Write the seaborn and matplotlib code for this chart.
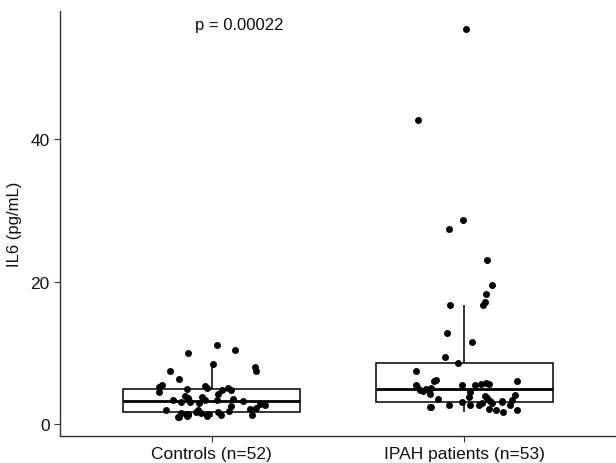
import numpy as np
import pandas as pd
import matplotlib
matplotlib.use("Agg")
import matplotlib.pyplot as plt
import seaborn as sns

# IL6 values
groups = ["Controls (n=52)", "IPAH patients (n=53)"]

controls = [11.15, 10.4, 9.9, 8.4, 7.97, 7.37, 7.37, 6.3, 5.4, 5.35, 5.25, 5.1, 5.0, 4.88,
            4.78, 4.7, 4.5, 4.2, 3.9, 3.78, 3.6, 3.5, 3.4, 3.4, 3.3, 3.25,
            3.1, 3.05, 2.95, 2.8, 2.66, 2.5, 2.3, 2.15, 2.0, 1.9, 1.8, 1.65, 1.62,
            1.6, 1.5, 1.45, 1.45, 1.35, 1.3, 1.25, 1.2, 1.2, 1.13, 1.05, 0.99, 1.0]

ipah = [55.5, 42.7, 28.7, 27.4, 22.98, 19.5, 18.3, 17.06, 16.7, 16.7, 12.7, 11.5, 9.37, 8.58,
        7.46, 6.1, 6.0, 6.0, 5.8, 5.6, 5.6, 5.5, 5.5, 5.4, 5.2, 5.1, 4.94,
        4.8, 4.6, 4.5, 4.25, 4.1, 3.87, 3.8, 3.7, 3.5, 3.4, 3.2, 3.2, 3.12, 3.1,
        3.0, 2.9, 2.7, 2.6, 2.6, 2.6, 2.4, 2.35, 2.15, 2.0, 1.9, 1.68]

p_label = "p = 0.00022"

df = pd.DataFrame({
    "group": [groups[0]] * len(controls) + [groups[1]] * len(ipah),
    "IL6": controls + ipah,
})

sns.set_style("ticks")
plt.rcParams["font.family"] = ["Liberation Sans", "DejaVu Sans"]

fig = plt.figure(figsize=(6.16, 4.64), dpi=100)
ax = fig.add_axes([60 / 616, 1 - 437 / 464, 1 - 60 / 616, (437 - 12) / 464])

# boxes without outliers, points drawn on top with jitter
sns.boxplot(data=df, x="group", y="IL6", order=groups, width=0.7,
            color="white", linecolor="black", linewidth=1.1,
            showfliers=False, showcaps=False,
            medianprops={"linewidth": 2.0}, ax=ax)

np.random.seed(3)
sns.stripplot(data=df, x="group", y="IL6", order=groups, jitter=0.22,
              color="black", size=5, linewidth=0, ax=ax)

ax.text(-0.066, 56.1, p_label, ha="left", va="center", fontsize=12, color="#111")

ax.set_xlim(-0.6, 1.6)
ax.set_ylim(-1.7, 58)
ax.set_yticks([0, 20, 40])
ax.set_xlabel("")
ax.set_ylabel("IL6 (pg/mL)", fontsize=12, color="#111", labelpad=6)
ax.tick_params(axis="both", labelsize=12.5, colors="#333", labelcolor="#111",
               length=4, width=0.8)
for side in ["top", "right"]:
    ax.spines[side].set_visible(False)
for side in ["left", "bottom"]:
    ax.spines[side].set_color("#333")
    ax.spines[side].set_linewidth(1.0)

fig.savefig("out.png", dpi=100)
